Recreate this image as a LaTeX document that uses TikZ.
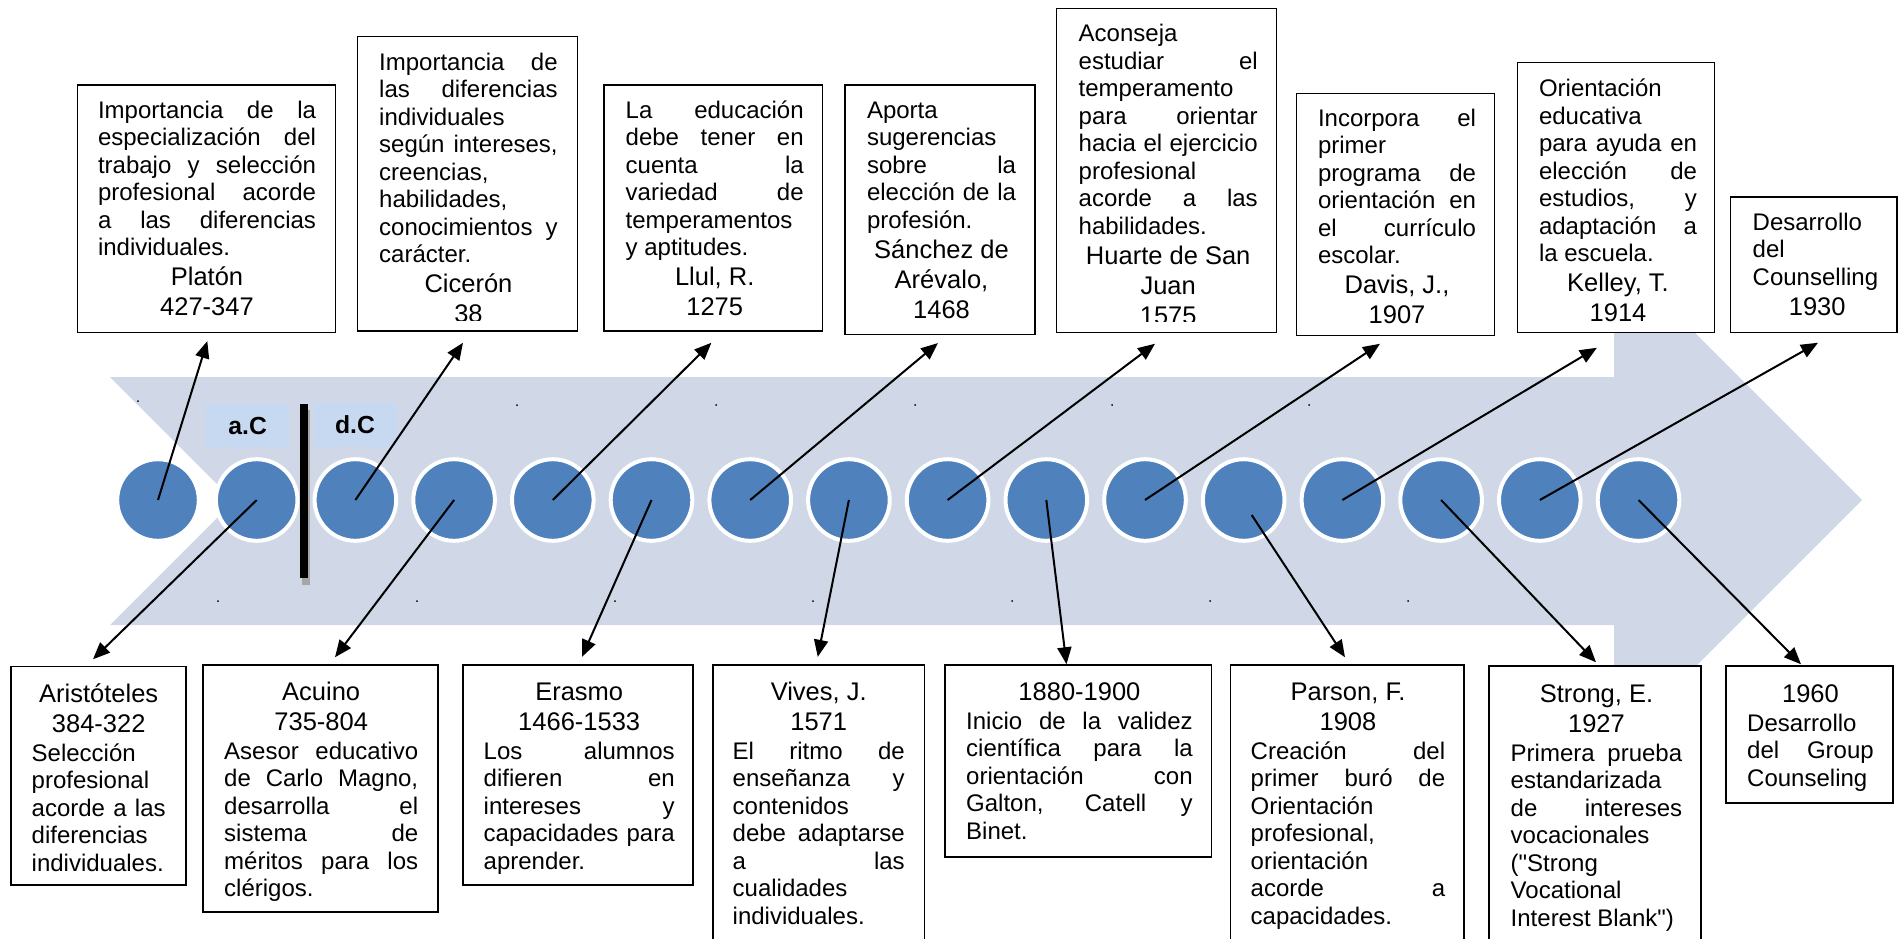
\documentclass[tikz,border=0pt]{standalone}
\usepackage{fontspec}
\setmainfont{Liberation Sans}[Ligatures=TeXOff]
\usetikzlibrary{arrows.meta}

\definecolor{bandgray}{HTML}{D0D8E8}
\definecolor{dotblue}{HTML}{4F81BD}
\definecolor{eralight}{HTML}{C6D9F1}

\newcommand{\nmfont}{\fontsize{25.5pt}{30pt}\selectfont}
\tolerance=10000 \hbadness=10000 \hyphenpenalty=10000

\begin{document}
\begin{tikzpicture}[x=1pt, y=-1pt,
    evbox/.style={draw, line width=1.5pt, fill=white, inner sep=0pt},
    evtxt/.style={font=\fontsize{24pt}{27.5pt}\selectfont, text width=#1, align=justify, inner sep=0pt, anchor=base west},
    tcirc/.style={circle, fill=dotblue, draw=white, line width=4pt, minimum size=81.6pt, inner sep=0pt},
    eralabel/.style={fill=eralight, minimum width=83pt, minimum height=44pt, inner sep=0pt, font=\fontsize{24.7pt}{28pt}\selectfont\bfseries},
    evarrow/.style={line width=2pt, -{Triangle[length=17pt,width=14pt]}}]
  \useasboundingbox (0,0) rectangle (1903,938);
  \clip (0,0) rectangle (1903,938);

  % the big arrow behind the timeline
  \fill[bandgray] (110,377) -- (1614,377) -- (1614,252) -- (1862,500) -- (1614,748)
    -- (1614,625) -- (110,625) -- (234,501) -- cycle;

  % a.C / d.C with the separating bar
  \node[eralabel] (ac) at (247.7,426.3) {a.C};
  \node[eralabel] (dc) at (355,425) {d.C};
  \fill[black!35] (302,410) rectangle (310,585);
  \fill[black] (300,404) rectangle (308,578);

  % small dots on the arrow
  \foreach \x/\y in {138/401, 517/405, 716/405, 915/405, 1112/405, 1309/405,
                     218/601, 417/601, 615/601, 813/601, 1012/601, 1210/601, 1408/601}
    \fill (\x,\y) circle (1);

  % timeline circles
  \foreach \i in {0,...,15}
    \node[tcirc] (c\i) at ({158+98.7*\i},500) {};

  % top box 1: Platon
  \node[evbox, minimum width=258pt, minimum height=247.3pt] (platon) at (206.3,208.7) {};
  \node[evtxt=218pt] (platon-t) at (97.8,118.3) {Importancia de la\linebreak especialización del\linebreak
    trabajo y selección\linebreak profesional acorde\linebreak a las diferencias\linebreak individuales.\par
    {\centering\nmfont Platón\par 427-347\par}};
  % top box 2: Ciceron
  \node[evbox, minimum width=219.6pt, minimum height=294.3pt] (ciceron) at (467.5,183.85) {};
  \begin{scope}
    \clip (357.7,36.7) rectangle (577.3,320);
    \node[evtxt=178.5pt] (ciceron-t) at (379,70) {Importancia de\linebreak las diferencias\linebreak
      individuales\linebreak según intereses,\linebreak creencias,\linebreak habilidades,\linebreak
      conocimientos y\linebreak carácter.\par
      {\centering\nmfont Cicerón\par 38\par}};
  \end{scope}
  % top box 3: Llul
  \node[evbox, minimum width=218.7pt, minimum height=246pt] (llul) at (713.35,208) {};
  \node[evtxt=178pt] (llul-t) at (625.5,118.3) {La educación\linebreak debe tener en\linebreak cuenta la\linebreak
    variedad de\linebreak temperamentos\linebreak y aptitudes.\par
    {\centering\nmfont Llul, R.\par 1275\par}};
  % top box 4: Sanchez de Arevalo
  \node[evbox, minimum width=190pt, minimum height=249.3pt] (sanchez) at (940,209.65) {};
  \node[evtxt=149pt] (sanchez-t) at (866.8,118.3) {Aporta\linebreak sugerencias\linebreak sobre la\linebreak
    elección de la\linebreak profesión.\par
    {\centering\nmfont Sánchez de\par Arévalo,\par 1468\par}};
  % top box 5: Huarte de San Juan
  \node[evbox, minimum width=220pt, minimum height=324pt] (huarte) at (1166.7,170.3) {};
  \begin{scope}
    \clip (1056.7,8.3) rectangle (1276.7,321);
    \node[evtxt=179pt] (huarte-t) at (1078.5,41.7) {Aconseja\linebreak estudiar el\linebreak temperamento\linebreak
      para orientar\linebreak hacia el ejercicio\linebreak profesional\linebreak acorde a las\linebreak habilidades.\par
      {\centering\nmfont Huarte de San\par Juan\par 1575\par}};
  \end{scope}
  % top box 6: Davis
  \node[evbox, minimum width=197.6pt, minimum height=242.4pt] (davis) at (1395.5,214.5) {};
  \node[evtxt=158pt] (davis-t) at (1317.8,126) {Incorpora el\linebreak primer\linebreak programa de\linebreak
    orientación en\linebreak el currículo\linebreak escolar.\par
    {\centering\nmfont Davis, J.,\par 1907\par}};
  % top box 7: Kelley
  \node[evbox, minimum width=197.2pt, minimum height=270.4pt] (kelley) at (1615.9,197.5) {};
  \node[evtxt=158pt] (kelley-t) at (1538.8,96.7) {Orientación\linebreak educativa\linebreak para ayuda en\linebreak
    elección de\linebreak estudios, y\linebreak adaptación a\linebreak la escuela.\par
    {\centering\nmfont Kelley, T.\par 1914\par}};
  % top box 8: Counselling
  \node[evbox, minimum width=166.5pt, minimum height=135.7pt] (couns) at (1813.75,264.85) {};
  \node[evtxt=129pt] (couns-t) at (1752.5,230) {Desarrollo\linebreak del\linebreak Counselling\par
    {\centering\nmfont 1930\par}};

  % bottom box 1: Aristoteles
  \node[evbox, minimum width=175pt, minimum height=218.5pt] (arist) at (98.5,775.75) {};
  \node[evtxt=134pt] (arist-t) at (31.5,702) {{\centering\nmfont Aristóteles\par 384-322\par}\vspace{1.5pt}
    Selección\linebreak profesional\linebreak acorde a las\linebreak diferencias\linebreak individuales.};
  % bottom box 2: Acuino
  \node[evbox, minimum width=235pt, minimum height=247pt] (acuino) at (320.5,788.5) {};
  \node[evtxt=194pt] (acuino-t) at (224,700) {{\centering\nmfont Acuino\par 735-804\par}\vspace{1.5pt}
    Asesor educativo\linebreak de Carlo Magno,\linebreak desarrolla el\linebreak sistema de\linebreak
    méritos para los\linebreak clérigos.};
  % bottom box 3: Erasmo
  \node[evbox, minimum width=230pt, minimum height=220pt] (erasmo) at (578,775) {};
  \node[evtxt=191pt] (erasmo-t) at (483.5,700) {{\centering\nmfont Erasmo\par 1466-1533\par}\vspace{1.5pt}
    Los alumnos\linebreak difieren en\linebreak intereses y\linebreak capacidades para\linebreak aprender.};
  % bottom box 4: Vives
  \node[evbox, minimum width=211.5pt, minimum height=295pt] (vives) at (818.75,812.5) {};
  \node[evtxt=172pt] (vives-t) at (732.5,700) {{\centering\nmfont Vives, J.\par 1571\par}\vspace{1.5pt}
    El ritmo de\linebreak enseñanza y\linebreak contenidos\linebreak debe adaptarse\linebreak a las\linebreak
    cualidades\linebreak individuales.};
  % bottom box 5: 1880-1900
  \node[evbox, minimum width=266.5pt, minimum height=192pt] (valid) at (1078.25,761) {};
  \node[evtxt=226.5pt] (valid-t) at (966,700) {{\centering\nmfont 1880-1900\par}\vspace{1.5pt}
    Inicio de la validez\linebreak científica para la\linebreak orientación con\linebreak Galton, Catell y\linebreak Binet.};
  % bottom box 6: Parson
  \node[evbox, minimum width=233.4pt, minimum height=295pt] (parson) at (1347.3,812.5) {};
  \node[evtxt=194.5pt] (parson-t) at (1250.5,700) {{\centering\nmfont Parson, F.\par 1908\par}\vspace{1.5pt}
    Creación del\linebreak primer buró de\linebreak Orientación\linebreak profesional,\linebreak orientación\linebreak
    acorde a\linebreak capacidades.};
  % bottom box 7: Strong
  \node[evbox, minimum width=212pt, minimum height=294pt] (strong) at (1595,813) {};
  \node[evtxt=171.5pt] (strong-t) at (1510.5,702) {{\centering\nmfont Strong, E.\par 1927\par}\vspace{1.5pt}
    Primera prueba\linebreak estandarizada\linebreak de intereses\linebreak vocacionales\linebreak ("Strong\linebreak
    Vocational\linebreak Interest Blank")};
  % bottom box 8: Group Counseling
  \node[evbox, minimum width=167pt, minimum height=137pt] (group) at (1809.5,734.5) {};
  \node[evtxt=126.5pt] (group-t) at (1747,702) {{\centering\nmfont 1960\par}\vspace{1.5pt}
    Desarrollo\linebreak del Group\linebreak Counseling};

  % arrows up
  \draw[evarrow] (c0.center) -- ([shift={(1,8)}]platon.south);
  \draw[evarrow] (c2.center) -- ([shift={(-4.5,11)}]ciceron.south);
  \draw[evarrow] (c4.center) -- ([shift={(-2,11)}]llul.south);
  \draw[evarrow] (c6.center) -- ([shift={(-2,8)}]sanchez.south);
  \draw[evarrow] (c8.center) -- ([shift={(-11.7,10.7)}]huarte.south);
  \draw[evarrow] (c10.center) -- ([shift={(-15.5,7.3)}]davis.south);
  \draw[evarrow] (c12.center) -- ([shift={(-19,14.3)}]kelley.south);
  \draw[evarrow] (c14.center) -- ([shift={(4.25,9.3)}]couns.south);
  % arrows down
  \draw[evarrow] (c1.center) -- ([shift={(-5.5,-6.5)}]arist.north);
  \draw[evarrow] (c3.center) -- ([shift={(14.5,-7)}]acuino.north);
  \draw[evarrow] (c5.center) -- ([shift={(4,-7.4)}]erasmo.north);
  \draw[evarrow] (c7.center) -- ([shift={(-1,-7.4)}]vives.north);
  \draw[evarrow] (c9.center) -- ([shift={(-11.75,0)}]valid.north);
  \draw[evarrow] ([shift={(8,15)}]c11.center) -- ([shift={(-2.3,-7)}]parson.north);
  \draw[evarrow] (c13.center) -- ([shift={(1,-3)}]strong.north);
  \draw[evarrow] (c15.center) -- ([shift={(-8.5,-1)}]group.north);
\end{tikzpicture}
\end{document}
